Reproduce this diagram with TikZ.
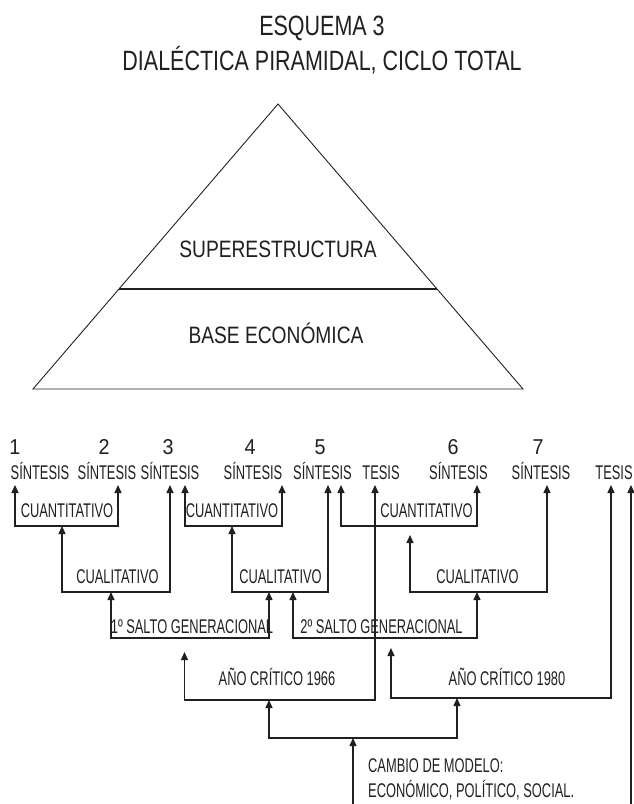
\documentclass[tikz,border=0pt]{standalone}
\usepackage{fontspec}
\usetikzlibrary{arrows.meta}
\newfontfamily\titlefont{Liberation Sans}[FakeStretch=0.77]
\newfontfamily\pyrfont{Liberation Sans}[FakeStretch=0.81]
\newfontfamily\labfont{Liberation Sans}[FakeStretch=0.65]
\newfontfamily\numfont{Liberation Sans}[FakeStretch=0.92]
\definecolor{ink}{HTML}{231F20}
\tikzset{
  titletxt/.style={inner sep=0pt, anchor=base, text=ink, font=\titlefont\fontsize{27.9}{30}\selectfont},
  pyrtxt/.style={inner sep=0pt, anchor=base, text=ink, font=\pyrfont\fontsize{23.7}{26}\selectfont},
  numtxt/.style={inner sep=0pt, anchor=base, text=ink, font=\numfont\fontsize{21.5}{24}\selectfont},
  labtxt/.style={inner sep=0pt, anchor=base, text=ink, font=\labfont\fontsize{19.8}{22}\selectfont},
  pyrline/.style={draw=ink, line width=0.9pt, line join=miter},
  divline/.style={draw=ink, line width=1.4pt},
  conn/.style={draw=ink, line width=1.4pt, line join=miter},
  tip/.tip={Triangle[length=8pt,width=7pt]},
  both/.style={conn, {tip}-{tip}},
  one/.style={conn, -{tip}}
}
\begin{document}
\begin{tikzpicture}[x=1pt,y=-1pt]
\useasboundingbox[fill=white] (0,0) rectangle (634,804);

% title
\node[titletxt] (title1) at (322,35) {ESQUEMA 3};
\node[titletxt] (title2) at (322,70) {DIALÉCTICA PIRAMIDAL, CICLO TOTAL};

% pyramid
\coordinate (apex) at (278,104);
\coordinate (bl) at (33,389);
\coordinate (br) at (523,389);
\coordinate (dl) at (119,289);
\coordinate (dr) at (437,289);
\draw[pyrline] (apex) -- (bl) -- (br) -- cycle;
\draw[divline] (dl) -- (dr);
\node[pyrtxt] (sup) at (278,257) {SUPERESTRUCTURA};
\node[pyrtxt] (base) at (276,343) {BASE ECONÓMICA};

% numbers
\node[numtxt] (n1) at (15,454) {1};
\node[numtxt] (n2) at (104,454) {2};
\node[numtxt] (n3) at (168,454) {3};
\node[numtxt] (n4) at (250,454) {4};
\node[numtxt] (n5) at (320,454) {5};
\node[numtxt] (n6) at (453,454) {6};
\node[numtxt] (n7) at (538,454) {7};

% top labels
\node[labtxt] (s1) at (40,479) {SÍNTESIS};
\node[labtxt] (s2) at (107,479) {SÍNTESIS};
\node[labtxt] (s3) at (170,479) {SÍNTESIS};
\node[labtxt] (s4) at (253,479) {SÍNTESIS};
\node[labtxt] (s5) at (322.5,479) {SÍNTESIS};
\node[labtxt] (te1) at (381,479) {TESIS};
\node[labtxt] (s6) at (458.5,479) {SÍNTESIS};
\node[labtxt] (s7) at (541,479) {SÍNTESIS};
\node[labtxt] (te2) at (614,479) {TESIS};

% bracket labels
\node[labtxt] (cuant1) at (67,517) {CUANTITATIVO};
\node[labtxt] (cuant2) at (232,517) {CUANTITATIVO};
\node[labtxt] (cuant3) at (426.5,517) {CUANTITATIVO};
\node[labtxt] (cual1) at (117.5,583) {CUALITATIVO};
\node[labtxt] (cual2) at (280.5,583) {CUALITATIVO};
\node[labtxt] (cual3) at (477.5,583) {CUALITATIVO};
\node[labtxt] (salto1) at (192,633) {1º SALTO GENERACIONAL};
\node[labtxt] (salto2) at (381.5,633) {2º SALTO GENERACIONAL};
\node[labtxt] (ano1) at (277,685) {AÑO CRÍTICO 1966};
\node[labtxt] (ano2) at (507,685) {AÑO CRÍTICO 1980};
\node[labtxt, anchor=base west] (cambio1) at (368,772) {CAMBIO DE MODELO:};
\node[labtxt, anchor=base west] (cambio2) at (368,797) {ECONÓMICO, POLÍTICO, SOCIAL.};

% connector coordinates
\coordinate (b1a) at (15,485);  \coordinate (b1b) at (15,526);  \coordinate (b1c) at (118,526); \coordinate (b1d) at (118,485);
\coordinate (b2a) at (185,485); \coordinate (b2b) at (185,526); \coordinate (b2c) at (282,526); \coordinate (b2d) at (282,485);
\coordinate (b3a) at (341,485); \coordinate (b3b) at (341,526); \coordinate (b3c) at (477,526); \coordinate (b3d) at (477,485);
\coordinate (b4a) at (62,526);  \coordinate (b4b) at (62,592);  \coordinate (b4c) at (170,592); \coordinate (b4d) at (170,485);
\coordinate (b5a) at (232,526); \coordinate (b5b) at (232,592); \coordinate (b5c) at (328,592); \coordinate (b5d) at (328,485);
\coordinate (b6a) at (410,535); \coordinate (b6b) at (410,592); \coordinate (b6c) at (547,592); \coordinate (b6d) at (547,485);
\coordinate (b7a) at (111,592); \coordinate (b7b) at (111,638); \coordinate (b7c) at (269,638); \coordinate (b7d) at (269,592);
\coordinate (b8a) at (293,592); \coordinate (b8b) at (293,638); \coordinate (b8c) at (477,638); \coordinate (b8d) at (477,592);
\coordinate (b9a) at (184.5,652); \coordinate (b9b) at (184.5,700); \coordinate (b9c) at (375,700); \coordinate (b9d) at (375,485);
\coordinate (b10a) at (391,648); \coordinate (b10b) at (391,698); \coordinate (b10c) at (611,698); \coordinate (b10d) at (611,485);
\coordinate (b11a) at (269,700); \coordinate (b11b) at (269,738); \coordinate (b11c) at (457,738); \coordinate (b11d) at (457,698);
\coordinate (in12) at (353,804); \coordinate (out12) at (353,738);
\coordinate (in13) at (631,804); \coordinate (out13) at (631,485);

% connectors
\draw[both] (b1a) -- (b1b) -- (b1c) -- (b1d);
\draw[both] (b2a) -- (b2b) -- (b2c) -- (b2d);
\draw[both] (b3a) -- (b3b) -- (b3c) -- (b3d);
\draw[both] (b4a) -- (b4b) -- (b4c) -- (b4d);
\draw[both] (b5a) -- (b5b) -- (b5c) -- (b5d);
\draw[both] (b6a) -- (b6b) -- (b6c) -- (b6d);
\draw[both] (b7a) -- (b7b) -- (b7c) -- (b7d);
\draw[both] (b8a) -- (b8b) -- (b8c) -- (b8d);
\draw[both] (b9a) -- (b9b) -- (b9c) -- (b9d);
\draw[both] (b10a) -- (b10b) -- (b10c) -- (b10d);
\draw[both] (b11a) -- (b11b) -- (b11c) -- (b11d);
\draw[one] (in12) -- (out12);
\draw[one] (in13) -- (out13);
\end{tikzpicture}
\end{document}
